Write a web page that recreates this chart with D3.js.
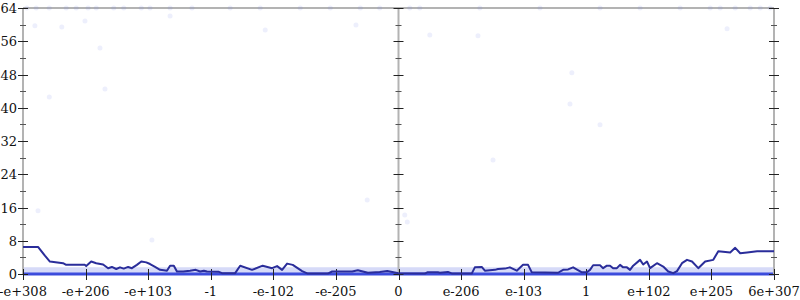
<!DOCTYPE html>
<html>
<head>
<meta charset="utf-8">
<script src="https://cdn.jsdelivr.net/npm/d3@7"></script>
<style>
  body { margin: 0; background: #fff; }
  svg { display: block; }
  .lbl { font-family: "DejaVu Serif", serif; font-size: 13px; fill: #111; }
</style>
</head>
<body>
<script>
// x runs 0..120, one tick label every 10 units
var xTickLabels = ["-e+308", "-e+206", "-e+103", "-1", "-e-102", "-e-205", "0",
                   "e-206", "e-103", "1", "e+102", "e+205", "6e+307"];
var yTicks = [0, 8, 16, 24, 32, 40, 48, 56, 64];

// main dark line [x, count]
var lineX = [0, 2.4, 3.5, 4.3, 6.4, 6.9, 9.9, 10.1, 10.9, 11.7, 12.8, 13.6, 14.2, 14.9, 15.5,
  16.1, 16.8, 17.4, 18.2, 18.9, 19.7, 20.3, 21.1, 21.9, 22.5, 23.0, 23.5, 24.1, 24.6, 25.6,
  26.7, 27.6, 28.3, 28.9, 29.4, 31.2, 31.8, 33.9, 34.7, 36.6, 38.3, 39.8, 40.6, 41.4, 42.2,
  43.1, 44.6, 45.5, 48.7, 49.4, 52.6, 53.5, 55.1, 57.0, 58.2, 60.0, 64.2, 64.6, 66.3, 66.6,
  67.9, 68.6, 71.7, 72.2, 73.3, 73.8, 75.4, 75.9, 77.0, 77.8, 78.9, 79.9, 80.7, 81.3, 85.5,
  86.3, 87.1, 87.9, 89.3, 90.1, 90.6, 91.1, 92.2, 92.7, 93.3, 93.8, 94.3, 94.9, 95.4, 95.9,
  96.5, 97.0, 97.5, 98.6, 99.1, 99.7, 100.2, 101.3, 102.3, 103.1, 103.9, 104.5, 105.3, 106.1,
  106.9, 107.9, 109.0, 110.3, 111.1, 113.0, 113.8, 114.6, 115.7, 117.3, 120];
var lineY = [6.5, 6.5, 4.4, 3.0, 2.6, 2.2, 2.2, 1.9, 3.0, 2.6, 2.3, 1.4, 1.7, 1.2, 1.6,
  1.3, 1.7, 1.4, 2.2, 3.0, 2.8, 2.4, 1.7, 1.0, 0.9, 0.8, 2.0, 2.0, 0.6, 0.6,
  0.8, 1.0, 0.6, 0.8, 0.6, 0.56, 0.2, 0.2, 2.0, 1.0, 2.0, 1.4, 1.9, 1.0, 2.5,
  2.2, 0.7, 0.1, 0.1, 0.6, 0.6, 0.9, 0.3, 0.5, 0.7, 0.2, 0.1, 0.4, 0.4, 0.3,
  0.5, 0.1, 0.1, 1.6, 1.7, 0.8, 1.0, 1.2, 1.3, 1.6, 0.8, 2.2, 2.2, 0.4, 0.3,
  1.0, 1.1, 1.6, 0.4, 0.4, 1.0, 2.1, 2.1, 1.4, 2.0, 2.0, 1.4, 1.4, 2.2, 1.6,
  1.6, 1.0, 2.0, 3.4, 2.3, 3.0, 1.4, 2.6, 1.8, 0.6, 0.2, 0.7, 2.6, 3.4,
  3.0, 1.4, 3.0, 3.4, 5.5, 5.2, 6.3, 5.0, 5.2, 5.5, 5.5];

// faint scattered samples
var topRowX = [0.6, 2.1, 4.2, 6.9, 8.5, 10.4, 11.7, 14.5, 16.1, 18.9, 20.3, 23.5, 27.0, 33.1,
  37.9, 44.3, 49.1, 53.9, 57.0, 61.8, 63.4, 73.0, 82.6, 92.2, 98.6, 105.0, 109.8, 111.4,
  113.8, 116.2, 117.8, 119.4];
var outlierX = [1.9, 6.2, 9.9, 12.3, 13.1, 4.2, 23.5, 20.6, 2.4, 53.2, 65.0, 112.5, 55.0,
  38.7, 72.7, 87.7, 92.2, 75.1, 87.4, 61.0, 61.4];
var outlierY = [59.7, 59.4, 60.9, 54.4, 44.5, 42.6, 62.1, 8.2, 15.2, 59.9, 57.5, 59.0, 17.8,
  58.7, 57.3, 48.4, 35.9, 27.4, 40.9, 14.2, 12.5];
// dense bands of samples near the bottom
var bandLevels = [0.9, 0];

var W = 800, H = 300;
var margin = {top: 8, right: 26, bottom: 26, left: 23};

var x = d3.scaleLinear().domain([0, 120]).range([margin.left, W - margin.right]);
var y = d3.scaleLinear().domain([0, 64]).range([H - margin.bottom, margin.top]);

var svg = d3.select("body").append("svg")
  .attr("width", W).attr("height", H);

// frame lines (gray)
var gray = "#b3b3b3";
svg.append("line")
  .attr("x1", x(0)).attr("x2", x(120))
  .attr("y1", y(64)).attr("y2", y(64))
  .attr("stroke", gray).attr("stroke-width", 2);
svg.append("line")
  .attr("x1", x(0)).attr("x2", x(120))
  .attr("y1", y(0) + 0.5).attr("y2", y(0) + 0.5)
  .attr("stroke", gray).attr("stroke-width", 1);

// bands
svg.selectAll("line.band")
  .data(bandLevels)
  .enter().append("line")
  .attr("class", "band")
  .attr("x1", x(0)).attr("x2", x(120))
  .attr("y1", function(d) { return y(d); })
  .attr("y2", function(d) { return y(d); })
  .attr("stroke", function(d, i) { return i == 0 ? "#b4bcf2" : "#3445dc"; })
  .attr("stroke-opacity", function(d, i) { return i == 0 ? 0.55 : 0.95; })
  .attr("stroke-width", function(d, i) { return i == 0 ? 6 : 3; });

// scattered points
var pts = topRowX.map(function(d) { return [d, 64]; })
  .concat(outlierX.map(function(d, i) { return [d, outlierY[i]]; }));
svg.selectAll("circle.pt")
  .data(pts)
  .enter().append("circle")
  .attr("class", "pt")
  .attr("cx", function(d) { return x(d[0]); })
  .attr("cy", function(d) { return y(d[1]); })
  .attr("r", 2.5)
  .attr("fill", "#6f7fea")
  .attr("fill-opacity", 0.12);

// vertical axes: left, middle, right
var yMinor = d3.range(0, 65, 4).filter(function(d) { return d % 8 != 0; });
[0, 60, 120].forEach(function(xv) {
  var g = svg.append("g").attr("transform", "translate(" + x(xv) + ",0)");
  g.append("line")
    .attr("y1", y(0)).attr("y2", y(64))
    .attr("stroke", gray).attr("stroke-width", 2);
  g.selectAll("line.maj").data(yTicks).enter().append("line")
    .attr("x1", -5).attr("x2", 5)
    .attr("y1", function(d) { return Math.round(y(d)) + 0.5; })
    .attr("y2", function(d) { return Math.round(y(d)) + 0.5; })
    .attr("stroke", "#222").attr("stroke-width", 1);
  g.selectAll("line.min").data(yMinor).enter().append("line")
    .attr("x1", -3).attr("x2", 3)
    .attr("y1", function(d) { return Math.round(y(d)) + 0.5; })
    .attr("y2", function(d) { return Math.round(y(d)) + 0.5; })
    .attr("stroke", "#555").attr("stroke-width", 1);
});

// y labels
svg.selectAll("text.ylab").data(yTicks).enter().append("text")
  .attr("class", "lbl")
  .attr("x", x(0) - 6)
  .attr("y", function(d) { return y(d) + 5; })
  .attr("text-anchor", "end")
  .text(function(d) { return d; });

// x ticks + labels
var xTicks = d3.range(0, 121, 10);
svg.selectAll("line.xt").data(xTicks).enter().append("line")
  .attr("x1", function(d) { return Math.round(x(d)) + 0.5; })
  .attr("x2", function(d) { return Math.round(x(d)) + 0.5; })
  .attr("y1", y(0) - 5).attr("y2", y(0) + 6)
  .attr("stroke", "#222");
svg.selectAll("text.xlab").data(xTicks).enter().append("text")
  .attr("class", "lbl")
  .attr("x", function(d) { return x(d); })
  .attr("y", H - 4)
  .attr("text-anchor", "middle")
  .text(function(d, i) { return xTickLabels[i]; });

// main line
var line = d3.line()
  .x(function(d) { return x(d); })
  .y(function(d, i) { return y(lineY[i]); });
svg.append("path")
  .attr("d", line(lineX))
  .attr("fill", "none")
  .attr("stroke", "#2a2d9a")
  .attr("stroke-width", 2)
  .attr("stroke-linejoin", "round");
</script>
</body>
</html>
